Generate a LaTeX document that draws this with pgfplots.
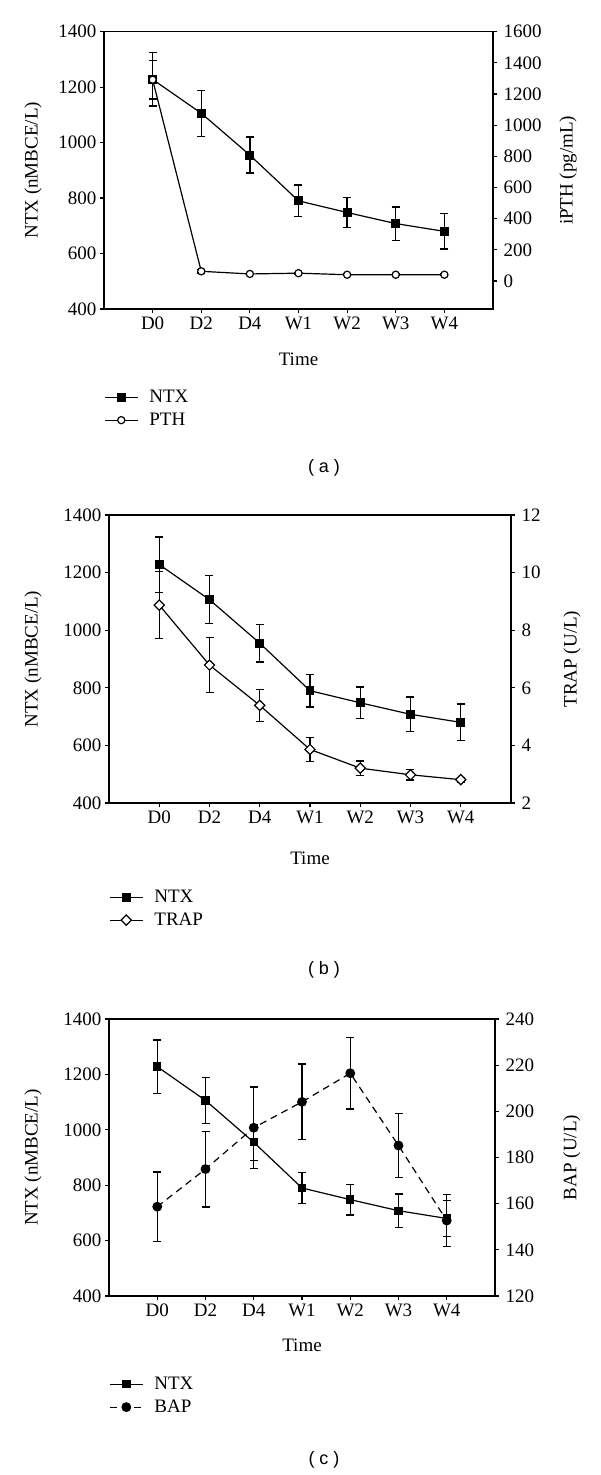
\documentclass[border=0pt]{standalone}
\usepackage{fontspec}
\setmainfont{Liberation Serif}
\setsansfont{Liberation Sans}
\usepackage{pgfplots}
\pgfplotsset{compat=1.18}
\usepackage{pgfplotstable}

\pgfplotstableread{
x y e
0 1228 96
1 1106 83
2 955 65
3 790 57
4 748 55
5 708 60
6 680 64
}\ntx
\pgfplotstableread{
x y e
0 1292 124
1 62 10
2 45 5
3 50 5
4 40 5
5 40 5
6 40 6
}\pth
\pgfplotstableread{
x y e
0 8.87 1.17
1 6.79 0.96
2 5.39 0.55
3 3.86 0.42
4 3.21 0.25
5 2.98 0.18
6 2.81 0.08
}\trap
\pgfplotstableread{
x y e
0 158.7 15.0
1 175.0 16.4
2 192.9 17.6
3 204.1 16.4
4 216.5 15.5
5 185.2 13.9
6 152.7 11.2
}\bap

\pgfplotsset{
  base/.style={
    scale only axis, xmin=-1, xmax=7,
    font=\fontsize{19}{22}\selectfont,
    /pgf/number format/assume math mode=true,
    /pgf/number format/1000 sep={},
    scaled ticks=false,
    tick align=outside, major tick length=4pt,
    tick style={black, line width=1.2pt},
    axis line style={line width=1.2pt},
    clip=false,
  },
  leftax/.style={
    base, ymin=400, ymax=1400, ytick={400,600,...,1400},
    xtick={0,...,6}, xticklabels={D0,D2,D4,W1,W2,W3,W4},
    xtick pos=left, ytick pos=left,
    xlabel={Time}, ylabel={NTX (nMBCE/L)},
    legend style={draw=none, fill=none, inner sep=0pt, row sep=5pt, column sep=9pt,
      font=\fontsize{19}{22}\selectfont, anchor=north west},
    legend cell align=left,
    legend image code/.code={\draw[mark repeat=2,mark phase=2,##1] plot coordinates {(0pt,0pt) (16.5pt,0pt) (33pt,0pt)};},
  },
  rightax/.style={
    base, axis x line=none, axis y line*=right, ytick pos=right,
    yticklabel style={xshift=3pt},
  },
  ebar/.style={error bars/.cd, y dir=both, y explicit,
    error bar style={line width=1.3pt, black, solid},
    error mark options={rotate=90, mark size=4pt, line width=1.3pt, black, solid}},
  ntxstyle/.style={black, line width=1.2pt, mark=square*, mark size=3.8pt, mark options={solid, fill=black}},
}

\begin{document}
\begin{tikzpicture}
\useasboundingbox (0,0) rectangle (600pt,-1475pt);

% ---------------- panel (a)
\begin{axis}[leftax, at={(104pt,-309pt)}, anchor=south west, width=389pt, height=277.3pt,
  ylabel style={at={(axis description cs:-0.1825,0.5)}, anchor=center},
  xlabel style={at={(axis description cs:0.5,-0.18)}, anchor=center},
  legend style={at={(axis description cs:0,-0.285)}}]
\addplot[ntxstyle, ebar] table[x=x, y=y, y error=e] {\ntx};
\addlegendentry{NTX}
\addlegendimage{black, line width=1.2pt, mark=*, mark size=3.6pt, mark options={fill=white}}
\addlegendentry{PTH}
\end{axis}
\begin{axis}[rightax, at={(104pt,-309pt)}, anchor=south west, width=389pt, height=277.3pt,
  ymin=-180, ymax=1600, ytick={0,200,...,1600}, ylabel={iPTH (pg/mL)},
  ylabel style={at={(axis description cs:1.193,0.5)}, anchor=center}]
\addplot[black, line width=1.2pt, mark=*, mark size=3.6pt, mark options={fill=white}, ebar] table[x=x, y=y, y error=e] {\pth};
\end{axis}
\node[font=\sffamily\fontsize{18}{20}\selectfont] at (324pt,-468pt) {( a )};

% ---------------- panel (b)
\begin{axis}[leftax, at={(109pt,-803pt)}, anchor=south west, width=402pt, height=288pt,
  ylabel style={at={(axis description cs:-0.189,0.5)}, anchor=center},
  xlabel style={at={(axis description cs:0.5,-0.191)}, anchor=center},
  legend style={at={(axis description cs:0,-0.295)}}]
\addplot[ntxstyle, ebar] table[x=x, y=y, y error=e] {\ntx};
\addlegendentry{NTX}
\addlegendimage{black, line width=1.2pt, mark=square*, mark size=3.6pt, mark options={fill=white, rotate=45}}
\addlegendentry{TRAP}
\end{axis}
\begin{axis}[rightax, at={(109pt,-803pt)}, anchor=south west, width=402pt, height=288pt,
  ymin=2, ymax=12, ytick={2,4,...,12}, ylabel={TRAP (U/L)},
  ylabel style={at={(axis description cs:1.152,0.5)}, anchor=center}]
\addplot[black, line width=1.2pt, mark=square*, mark size=3.6pt, mark options={fill=white, rotate=45}, ebar] table[x=x, y=y, y error=e] {\trap};
\end{axis}
\node[font=\sffamily\fontsize{18}{20}\selectfont] at (324pt,-970pt) {( b )};

% ---------------- panel (c)
\begin{axis}[leftax, at={(109pt,-1296pt)}, anchor=south west, width=386pt, height=277pt,
  ylabel style={at={(axis description cs:-0.197,0.5)}, anchor=center},
  xlabel style={at={(axis description cs:0.5,-0.177)}, anchor=center},
  legend style={at={(axis description cs:0,-0.285)}}]
\addplot[ntxstyle, mark size=3.6pt, ebar] table[x=x, y=y, y error=e] {\ntx};
\addlegendentry{NTX}
\addlegendimage{black, line width=1.2pt, dash pattern=on 7pt off 5pt, mark=*, mark size=4.3pt, mark options={solid, fill=black}}
\addlegendentry{BAP}
\end{axis}
\begin{axis}[rightax, at={(109pt,-1296pt)}, anchor=south west, width=386pt, height=277pt,
  ymin=120, ymax=240, ytick={120,140,...,240}, ylabel={BAP (U/L)},
  ylabel style={at={(axis description cs:1.199,0.5)}, anchor=center}]
\addplot[black, line width=1.2pt, dash pattern=on 7pt off 5pt, mark=*, mark size=4.3pt, mark options={solid, fill=black}, ebar] table[x=x, y=y, y error=e] {\bap};
\end{axis}
\node[font=\sffamily\fontsize{18}{20}\selectfont] at (324pt,-1460pt) {( c )};
\end{tikzpicture}
\end{document}
